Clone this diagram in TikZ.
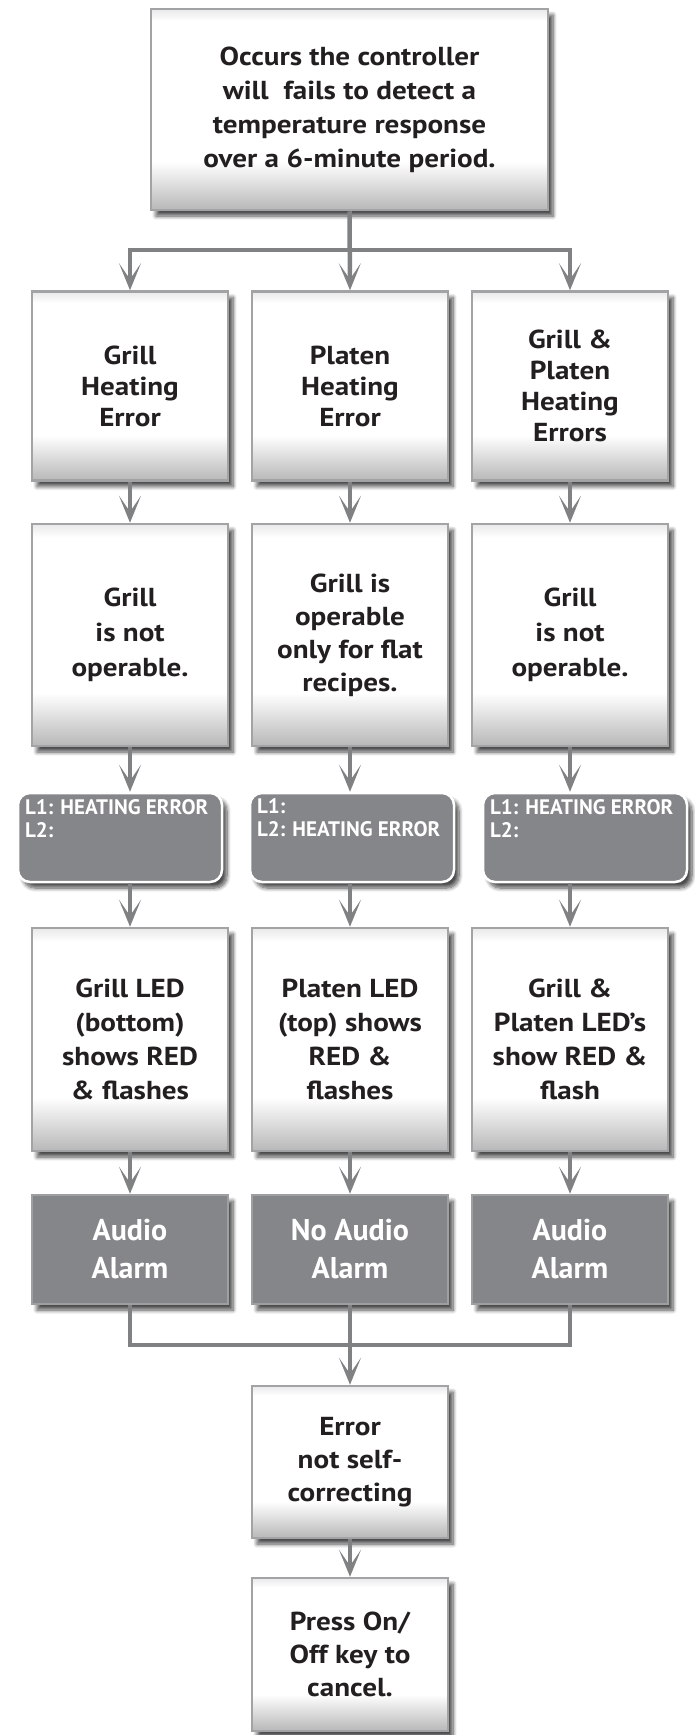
\documentclass[tikz,border=0pt]{standalone}
\usepackage{fontspec}
\setmainfont{PT Sans}[FakeStretch=1.12]
\newfontfamily\plainfont{PT Sans}
\usetikzlibrary{arrows.meta,shadows.blur}
\definecolor{linegray}{HTML}{808183}
\definecolor{boxborder}{HTML}{A2A3A5}
\definecolor{darkfill}{HTML}{858689}
\definecolor{darkborder}{HTML}{9E9FA1}
\definecolor{txt}{HTML}{231F20}
\pgfdeclareverticalshading{boxshade}{100bp}{color(0bp)=(black!28); color(25bp)=(black!28); color(37bp)=(white); color(72bp)=(white); color(75bp)=(black!9); color(100bp)=(black!9)}
\tikzset{
  shad/.style={blur shadow={shadow xshift=5pt, shadow yshift=-6pt, shadow blur radius=4pt, shadow opacity=70, shadow blur steps=8}},
  lightbox/.style={shad, draw=boxborder, line width=2.5pt, shading=boxshade, inner sep=0pt, align=center, text=txt,
    font=\bfseries\fontsize{26}{33}\selectfont, minimum width=196pt},
  darkbox/.style={shad, draw=darkborder, line width=2.5pt, fill=darkfill, inner sep=0pt, align=center, text=white,
    font=\plainfont\bfseries\fontsize{30}{38}\selectfont, minimum width=196pt, minimum height=109pt},
  lcdbox/.style={shad, draw=white, line width=2.5pt, rounded corners=12pt, fill=darkfill, inner sep=6pt, text=white,
    font=\plainfont\bfseries\fontsize{21}{23}\selectfont, minimum width=204pt},
  conn/.style={draw=linegray, line width=4.5pt},
  arr/.style={conn, -{Stealth[length=27pt, width=22pt, inset=16pt]}},
}
\newcommand{\lcdtext}[1]{\parbox[c][77pt][t]{190pt}{\raggedright #1}}
\begin{document}
\begin{tikzpicture}[x=1pt, y=-1pt]
\useasboundingbox (0,0) rectangle (694,1735);
% top box
\node[lightbox, minimum width=397pt, minimum height=201pt, font=\bfseries\fontsize{26}{34}\selectfont] (top) at (349.5,109.5)
  {Occurs the controller\\will\ \ fails to detect a\\temperature response\\over a 6-minute period.};
% row 1
\node[lightbox, minimum height=189pt, font=\bfseries\fontsize{26}{31}\selectfont] (b1) at (130,386) {Grill\\Heating\\Error};
\node[lightbox, minimum height=189pt, font=\bfseries\fontsize{26}{31}\selectfont] (b2) at (350,386) {Platen\\Heating\\Error};
\node[lightbox, minimum height=189pt, font=\bfseries\fontsize{26}{31}\selectfont] (b3) at (570,386) {Grill \&\\Platen\\Heating\\Errors};
% row 2
\node[lightbox, minimum height=222pt, font=\bfseries\fontsize{26}{35}\selectfont] (c1) at (130,635) {Grill\\is not\\operable.};
\node[lightbox, minimum height=222pt] (c2) at (350,635) {Grill is\\operable\\only for flat\\recipes.};
\node[lightbox, minimum height=222pt, font=\bfseries\fontsize{26}{35}\selectfont] (c3) at (570,635) {Grill\\is not\\operable.};
% LCD row
\node[lcdbox] (l1) at (120,837.5) {\lcdtext{L1: HEATING ERROR\\L2:}};
\node[lcdbox] (l2) at (352,837.5) {\lcdtext{L1:\\L2: HEATING ERROR}};
\node[lcdbox] (l3) at (585,837.5) {\lcdtext{L1: HEATING ERROR\\L2:}};
% LED row
\node[lightbox, minimum height=223pt, font=\bfseries\fontsize{26}{34}\selectfont] (d1) at (130,1039.5) {Grill LED\\(bottom)\\shows RED\\\& flashes};
\node[lightbox, minimum height=223pt, font=\bfseries\fontsize{26}{34}\selectfont] (d2) at (350,1039.5) {Platen LED\\(top) shows\\RED \&\\flashes};
\node[lightbox, minimum height=223pt, font=\bfseries\fontsize{26}{34}\selectfont] (d3) at (570,1039.5) {Grill \&\\Platen LED’s\\show RED \&\\flash};
% audio row
\node[darkbox] (a1) at (130,1249.5) {Audio\\Alarm};
\node[darkbox] (a2) at (350,1249.5) {No Audio\\Alarm};
\node[darkbox] (a3) at (570,1249.5) {Audio\\Alarm};
% bottom boxes
\node[lightbox, minimum height=152pt] (err) at (350,1462) {Error\\not self-\\correcting};
\node[lightbox, minimum height=153pt] (press) at (350,1654.5) {Press On/\\Off key to\\cancel.};
% connectors
\coordinate (split) at (350,250);
\coordinate (merge) at (350,1345);
\draw[arr] (top.south) -- (b2.north);
\draw[arr] (split) -| (b1.north);
\draw[arr] (split) -| (b3.north);
\foreach \i in {1,2,3}{
  \draw[arr] (b\i.south) -- (c\i.north);
  \draw[arr] (c\i.south) -- (c\i.south |- l\i.north);
  \draw[arr] (d\i.north |- l\i.south) -- (d\i.north);
  \draw[arr] (d\i.south) -- (a\i.north);
}
\draw[conn] (a1.south) |- (merge);
\draw[conn] (a3.south) |- (merge);
\draw[arr] (a2.south) -- (err.north);
\draw[arr] (err.south) -- (press.north);
\end{tikzpicture}
\end{document}
